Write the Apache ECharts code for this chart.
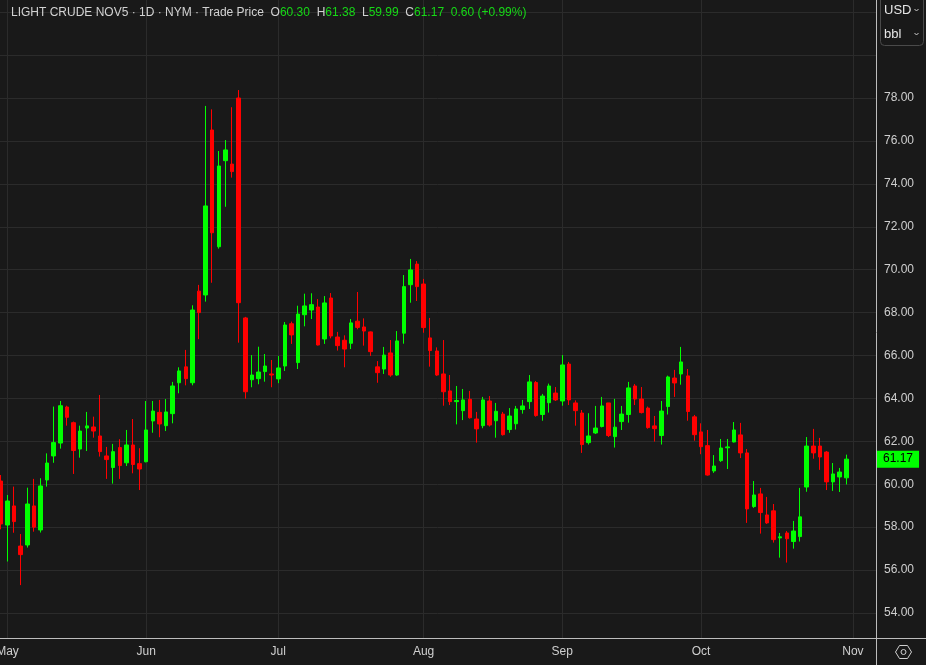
<!DOCTYPE html>
<html><head><meta charset="utf-8">
<script src="https://cdn.jsdelivr.net/npm/echarts@6/dist/echarts.min.js"></script>
<style>html,body{margin:0;padding:0;background:#191919;}#c{width:926px;height:665px;}</style>
</head><body><div id="c"></div>
<script>
// Trading-day categories (2025), MM-DD; the last four are future (empty) slots
const dates = [
'04-30',
'05-01','05-02','05-05','05-06','05-07','05-08','05-09','05-12','05-13','05-14','05-15','05-16','05-19','05-20','05-21','05-22','05-23','05-27','05-28','05-29','05-30',
'06-02','06-03','06-04','06-05','06-06','06-09','06-10','06-11','06-12','06-13','06-16','06-17','06-18','06-20','06-23','06-24','06-25','06-26','06-27','06-30',
'07-01','07-02','07-03','07-07','07-08','07-09','07-10','07-11','07-14','07-15','07-16','07-17','07-18','07-21','07-22','07-23','07-24','07-25','07-28','07-29','07-30','07-31',
'08-01','08-04','08-05','08-06','08-07','08-08','08-11','08-12','08-13','08-14','08-15','08-18','08-19','08-20','08-21','08-22','08-25','08-26','08-27','08-28','08-29',
'09-02','09-03','09-04','09-05','09-08','09-09','09-10','09-11','09-12','09-15','09-16','09-17','09-18','09-19','09-22','09-23','09-24','09-25','09-26','09-29','09-30',
'10-01','10-02','10-03','10-06','10-07','10-08','10-09','10-10','10-13','10-14','10-15','10-16','10-17','10-20','10-21','10-22','10-23','10-24','10-27','10-28','10-29','10-30','10-31',
'11-03','11-04','11-05','11-06'
];
const opens = [60.15,
58.10,58.99,57.12,57.17,58.99,57.87,60.20,61.32,61.92,63.60,62.87,61.64,62.62,62.67,62.25,61.32,60.78,61.71,61.00,61.83,60.96,
61.05,62.95,63.35,62.73,63.29,64.73,65.47,64.73,69.00,68.82,76.51,71.07,75.08,74.92,78.00,67.75,64.87,64.92,65.25,65.14,
64.91,65.51,67.48,65.67,67.90,68.12,68.26,66.77,68.68,66.86,66.71,66.57,67.60,67.33,67.10,65.47,65.37,66.12,65.09,67.04,69.30,70.26,
69.33,66.82,66.21,65.14,64.35,63.85,63.43,63.96,63.04,62.73,63.88,62.96,63.27,62.55,62.82,63.48,63.85,64.74,63.25,63.80,64.25,
63.88,65.60,63.79,63.32,61.94,62.39,62.69,63.79,62.22,62.92,63.25,64.58,63.97,63.55,62.72,62.27,63.62,64.95,65.14,65.05,63.14,
62.44,61.80,60.62,61.10,61.70,61.97,62.30,61.46,58.96,59.55,58.57,58.76,57.50,57.73,57.33,57.56,59.87,61.78,61.78,61.50,60.11,60.34,60.30];
const highs = [60.43,
59.50,59.89,57.68,59.84,60.25,60.28,61.44,63.62,63.88,63.66,62.92,62.73,63.37,63.15,64.16,61.74,61.88,62.10,62.53,63.04,61.68,
63.88,63.88,63.93,63.97,64.77,65.45,66.26,68.34,69.29,77.63,77.47,75.53,76.04,77.57,78.37,67.80,66.02,66.41,66.07,65.79,
65.98,67.56,67.58,68.32,68.88,68.90,68.63,68.77,68.91,67.10,66.94,67.70,68.96,67.73,67.12,65.74,66.40,66.72,67.14,69.75,70.50,70.40,
69.57,67.75,66.38,66.72,65.09,64.58,64.44,64.35,63.37,64.07,64.11,63.79,63.37,63.55,63.65,63.93,65.09,64.81,64.21,64.69,64.53,
66.02,65.70,63.91,63.46,63.31,63.65,64.07,63.79,63.98,63.65,64.77,64.67,64.53,63.62,63.18,63.88,65.06,65.33,66.40,65.37,63.23,
62.84,62.53,61.36,62.11,62.11,62.90,62.86,61.64,60.15,59.83,59.41,59.08,57.73,57.82,58.29,59.83,62.20,62.58,62.16,61.55,60.99,60.76,61.38];
const lows = [57.90,
56.40,57.74,55.30,57.05,57.79,57.75,59.89,61.00,61.66,62.73,60.48,61.24,61.55,62.17,61.29,60.25,60.03,60.25,60.85,60.51,59.73,
61.02,62.40,62.19,62.48,62.84,64.24,64.61,64.61,66.76,68.51,69.39,70.98,72.93,74.29,66.60,63.99,64.52,64.66,64.78,64.52,
64.71,65.28,66.54,65.37,67.36,67.70,66.47,66.54,66.80,66.23,65.45,66.30,67.22,66.46,65.98,64.73,65.14,65.01,65.05,66.55,68.46,68.54,
67.06,65.48,65.05,63.66,63.69,62.79,62.99,63.06,61.94,62.61,62.69,62.17,62.27,62.40,62.55,63.29,63.51,63.15,62.96,63.34,63.88,
63.66,63.69,62.73,61.46,61.85,62.34,62.65,62.20,61.71,62.53,62.87,63.69,63.30,62.59,61.99,61.85,63.25,64.07,64.64,62.96,62.03,
61.40,60.40,60.53,61.04,60.71,61.95,61.22,58.20,58.90,57.70,58.15,57.28,56.58,56.35,57.00,57.33,59.65,61.19,60.67,59.73,59.69,59.64,59.99];
const closes = [58.15,
59.22,58.26,56.72,59.08,58.00,59.92,60.99,61.94,63.66,63.12,61.57,62.48,62.72,62.48,61.52,61.15,61.52,60.87,61.83,60.92,60.71,
62.53,63.41,62.81,63.37,64.58,65.28,64.92,68.12,68.00,72.97,71.72,74.83,75.58,74.57,68.46,64.31,65.09,65.23,65.51,65.09,
65.42,67.42,66.96,67.93,68.31,68.37,66.49,68.45,66.91,66.46,66.30,67.52,67.31,67.14,66.18,65.20,66.02,65.09,66.68,69.21,69.99,69.21,
67.30,66.23,65.09,64.31,63.85,63.90,63.93,63.10,62.58,63.93,62.76,63.40,62.31,63.18,63.51,63.65,64.77,63.20,64.11,64.58,63.93,
65.56,63.93,63.43,61.85,62.25,62.62,63.65,62.27,62.66,63.27,64.49,63.97,63.34,62.64,62.59,63.41,65.00,64.72,65.70,63.39,62.31,
61.75,60.43,60.85,61.69,61.74,62.53,61.46,58.85,59.50,58.68,58.20,57.42,57.55,57.46,57.82,58.48,61.78,61.46,61.27,60.11,60.48,60.57,61.17];
const monthNames = ['Jan','Feb','Mar','Apr','May','Jun','Jul','Aug','Sep','Oct','Nov','Dec'];
const priceTicks = [54,56,58,60,62,64,66,68,70,72,74,76,78];

const GRID = '#2b2b2b';
const TXT = '#cfcfcf';
const UP = '#00ff00', DOWN = '#ff0000';
const FONT = 'Liberation Sans, Arial, sans-serif';

const candles = dates.map((d, i) => i < opens.length ? [opens[i], closes[i], lows[i], highs[i]] : '-');
const isMonthStart = (i) => i > 0 && dates[i].slice(0, 2) !== dates[i - 1].slice(0, 2);

const last = opens.length - 1;
const chg = closes[last] - closes[last - 1];
const pct = chg / closes[last - 1] * 100;
const header = '{g|LIGHT CRUDE NOV5 · 1D · NYM · Trade Price  O}{v|' + opens[last].toFixed(2) +
  '}{g|  H}{v|' + highs[last].toFixed(2) + '}{g|  L}{v|' + lows[last].toFixed(2) +
  '}{g|  C}{v|' + closes[last].toFixed(2) + '}{v|  ' + chg.toFixed(2) + ' (' + (chg >= 0 ? '+' : '') + pct.toFixed(2) + '%)}';

const chart = echarts.init(document.getElementById('c'), null, {renderer: 'canvas'});
chart.setOption({
  animation: false,
  backgroundColor: '#191919',
  title: {
    text: header, left: 6, top: 2,
    textStyle: { fontWeight: 'normal', rich: {
      g: { color: '#d2d2d2', fontSize: 12, fontFamily: FONT, fontWeight: 'normal' },
      v: { color: '#16d916', fontSize: 12, fontFamily: FONT, fontWeight: 'normal' }
    } }
  },
  grid: { left: -2.41, right: 50, top: -30.75, bottom: 52, containLabel: false, outerBoundsMode: 'none' },
  xAxis: {
    type: 'category', data: dates, boundaryGap: true, offset: 25,
    axisLine: { show: false },
    axisTick: { show: true, inside: true, length: 25, alignWithLabel: true, interval: isMonthStart, lineStyle: { color: GRID } },
    axisLabel: { interval: isMonthStart, formatter: (v) => monthNames[+v.slice(0, 2) - 1], color: TXT, fontSize: 12, fontFamily: FONT, margin: 8 },
    splitLine: { show: true, interval: isMonthStart, alignWithLabel: true, lineStyle: { color: GRID } }
  },
  yAxis: {
    type: 'value', position: 'right', min: 54, max: 84, interval: 2,
    axisLine: { show: false }, axisTick: { show: false },
    axisLabel: { margin: 8, color: TXT, fontSize: 12, fontFamily: FONT,
      formatter: (v) => priceTicks.indexOf(v) >= 0 ? v.toFixed(2) : '' },
    splitLine: { show: true, lineStyle: { color: GRID } }
  },
  series: [{
    type: 'candlestick', data: candles, barWidth: 4, clip: true,
    itemStyle: { color: UP, color0: DOWN, borderColor: UP, borderColor0: DOWN, borderWidth: 1 },
    markLine: {
      silent: true, symbol: ['none', 'none'], animation: false,
      lineStyle: { color: 'rgba(0,0,0,0)', width: 1, type: 'solid' },
      label: { show: true, position: 'end', distance: 1, formatter: (p) => Number(p.value).toFixed(2),
        backgroundColor: UP, color: '#000', fontSize: 12, fontFamily: FONT, padding: [3, 6, 2, 6] },
      data: [{ yAxis: closes[last] }]
    }
  }],
  graphic: [
    { type: 'line', silent: true, z: 50, shape: { x1: 876.5, y1: 0, x2: 876.5, y2: 665 }, style: { stroke: '#bdbdbd', lineWidth: 1 } },
    { type: 'line', silent: true, z: 50, shape: { x1: 0, y1: 638.5, x2: 926, y2: 638.5 }, style: { stroke: '#bdbdbd', lineWidth: 1 } },
    { type: 'rect', silent: true, z: 50, shape: { x: 880.5, y: -5, width: 43, height: 50.5, r: 4 }, style: { fill: 'none', stroke: '#4a4a4a', lineWidth: 1 } },
    { type: 'text', silent: true, z: 50, style: { x: 884, y: 10, text: 'USD', fill: '#e6e6e6', font: '13px ' + FONT, textVerticalAlign: 'middle' } },
    { type: 'text', silent: true, z: 50, style: { x: 884, y: 34, text: 'bbl', fill: '#e6e6e6', font: '13px ' + FONT, textVerticalAlign: 'middle' } },
    { type: 'polyline', silent: true, z: 50, shape: { points: [[914.5, 9], [916.5, 11], [918.5, 9]] }, style: { stroke: '#cfcfcf', lineWidth: 1, fill: 'none' } },
    { type: 'polyline', silent: true, z: 50, shape: { points: [[914.5, 33], [916.5, 35], [918.5, 33]] }, style: { stroke: '#cfcfcf', lineWidth: 1, fill: 'none' } },
    { type: 'polygon', silent: true, z: 50, shape: { points: [[895.5, 652], [899.5, 645.5], [907.5, 645.5], [911.5, 652], [907.5, 658.5], [899.5, 658.5]] }, style: { stroke: '#cfcfcf', lineWidth: 1, fill: 'none' } },
    { type: 'circle', silent: true, z: 50, shape: { cx: 903.5, cy: 652, r: 2.5 }, style: { stroke: '#cfcfcf', lineWidth: 1, fill: 'none' } }
  ]
});
</script></body></html>
